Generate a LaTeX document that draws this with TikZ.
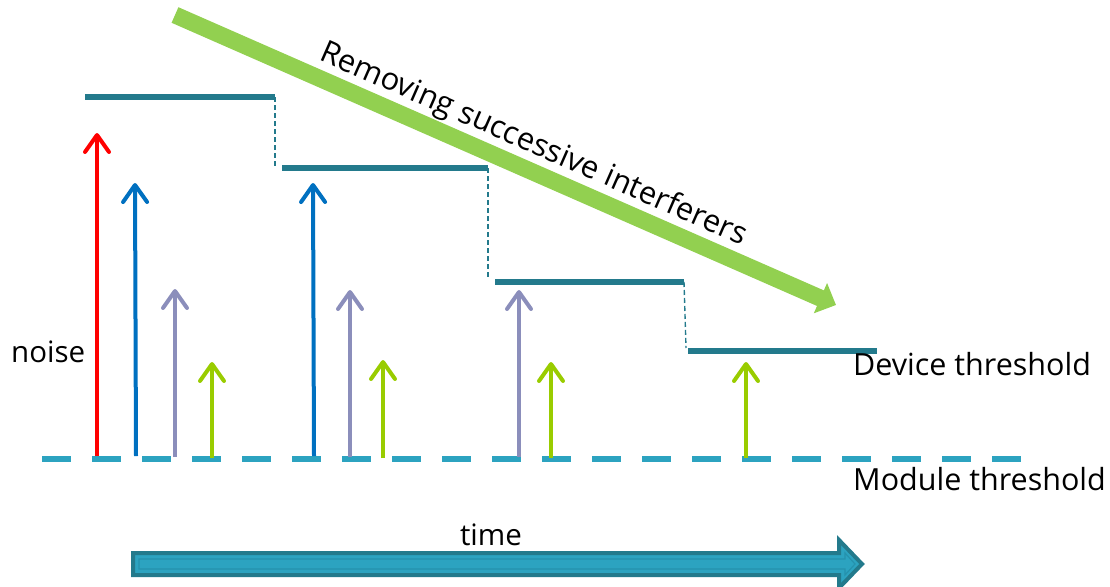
\documentclass[tikz,border=0pt]{standalone}
\usepackage{fontspec}
\setmainfont{Open Sans}
\usetikzlibrary{arrows.meta}
\definecolor{stepteal}{HTML}{237A8C}
\definecolor{modblue}{HTML}{2CA3C0}
\definecolor{innerblue}{HTML}{2592AD}
\definecolor{nred}{HTML}{FF0000}
\definecolor{nblue}{HTML}{0070C0}
\definecolor{nlav}{HTML}{8B8EBB}
\definecolor{ngreen}{HTML}{99CC00}
\definecolor{sweepgreen}{HTML}{92D050}
\begin{document}
\begin{tikzpicture}[
                            x=1pt, y=-1pt,
                            >={Straight Barb[length=17pt,width=24pt,round]},
                            level/.style={draw=stepteal, line width=6pt},
                            drop/.style={draw=stepteal, line width=1.4pt, dash pattern=on 5pt off 3pt},
                            noisearrow/.style={->, line width=4pt},
                            txt/.style={font=\fontsize{29.5}{34}\selectfont, inner sep=0pt},
                            sweep/.style={draw=sweepgreen, line width=17pt, -{Triangle[length=17pt,width=32pt]}}
                            ]
                            \useasboundingbox (0,0) rectangle (1110,586);

                            \coordinate (mod start) at (42,459);
                            \coordinate (mod end) at (1021,459);
                            \draw[modblue, line width=6pt, dash pattern=on 29pt off 21pt] (mod start) -- (mod end);

                            \coordinate (s1a) at (85,97);
                            \coordinate (s1b) at (275,97);
                            \coordinate (d1) at (275,166);
                            \coordinate (s2a) at (282,168);
                            \coordinate (s2b) at (488,168);
                            \coordinate (d2) at (488,278);
                            \coordinate (s3a) at (495,282);
                            \coordinate (s3b) at (684,282);
                            \coordinate (d3) at (686,348);
                            \coordinate (s4a) at (688,351);
                            \coordinate (s4b) at (877,351);
                            \draw[level] (s1a) -- (s1b);
                            \draw[level] (s2a) -- (s2b);
                            \draw[level] (s3a) -- (s3b);
                            \draw[level] (s4a) -- (s4b);
                            \draw[drop] (s1b) -- (d1);
                            \draw[drop] (s2b) -- (d2);
                            \draw[drop] (s3b) -- (d3);

                            \coordinate (red b) at (97,456);   \coordinate (red t) at (97,133);
                            \coordinate (blue1 b) at (136,456); \coordinate (blue1 t) at (135,183);
                            \coordinate (lav1 b) at (175,457);  \coordinate (lav1 t) at (175,289);
                            \coordinate (grn1 b) at (212,458);  \coordinate (grn1 t) at (212,362);
                            \coordinate (blue2 b) at (314,456); \coordinate (blue2 t) at (313,183);
                            \coordinate (lav2 b) at (350,457);  \coordinate (lav2 t) at (350,290);
                            \coordinate (grn2 b) at (383,458);  \coordinate (grn2 t) at (383,360);
                            \coordinate (lav3 b) at (519,457);  \coordinate (lav3 t) at (519,290);
                            \coordinate (grn3 b) at (551,458);  \coordinate (grn3 t) at (551,362);
                            \coordinate (grn4 b) at (746,458);  \coordinate (grn4 t) at (746,362);
                            \draw[noisearrow, nred] (red b) -- (red t);
                            \draw[noisearrow, nblue] (blue1 b) -- (blue1 t);
                            \draw[noisearrow, nlav] (lav1 b) -- (lav1 t);
                            \draw[noisearrow, ngreen] (grn1 b) -- (grn1 t);
                            \draw[noisearrow, nblue] (blue2 b) -- (blue2 t);
                            \draw[noisearrow, nlav] (lav2 b) -- (lav2 t);
                            \draw[noisearrow, ngreen] (grn2 b) -- (grn2 t);
                            \draw[noisearrow, nlav] (lav3 b) -- (lav3 t);
                            \draw[noisearrow, ngreen] (grn3 b) -- (grn3 t);
                            \draw[noisearrow, ngreen] (grn4 b) -- (grn4 t);

                            \coordinate (rm start) at (175,15);
                            \coordinate (rm end) at (836,305);
                            \draw[sweep] (rm start) -- node[sloped, above=1pt, pos=0.527, txt, font=\fontsize{31}{36}\selectfont] (removing) {Removing successive interferers} (rm end);

                            \node[txt, anchor=base west] (noise) at (11,362) {noise};
                            \node[txt, anchor=base west, font=\fontsize{30.5}{35}\selectfont] (device) at (853,375) {Device threshold};
                            \node[txt, anchor=base west, font=\fontsize{30.5}{35}\selectfont] (module) at (853,490) {Module threshold};
                            \node[txt, anchor=base] (time) at (491,545) {time};

                            \draw[stepteal, line width=4pt, fill=modblue, line join=miter]
                                (133,553) -- (839,553) -- (839,540) -- (862,564) -- (839,588) -- (839,575) -- (133,575) -- cycle;
                            \draw[innerblue, line width=1.2pt]
                                (139,559) -- (845,559) -- (845,553) -- (855,564) -- (845,575) -- (845,569) -- (139,569) -- cycle;
                        \end{tikzpicture}
\end{document}
